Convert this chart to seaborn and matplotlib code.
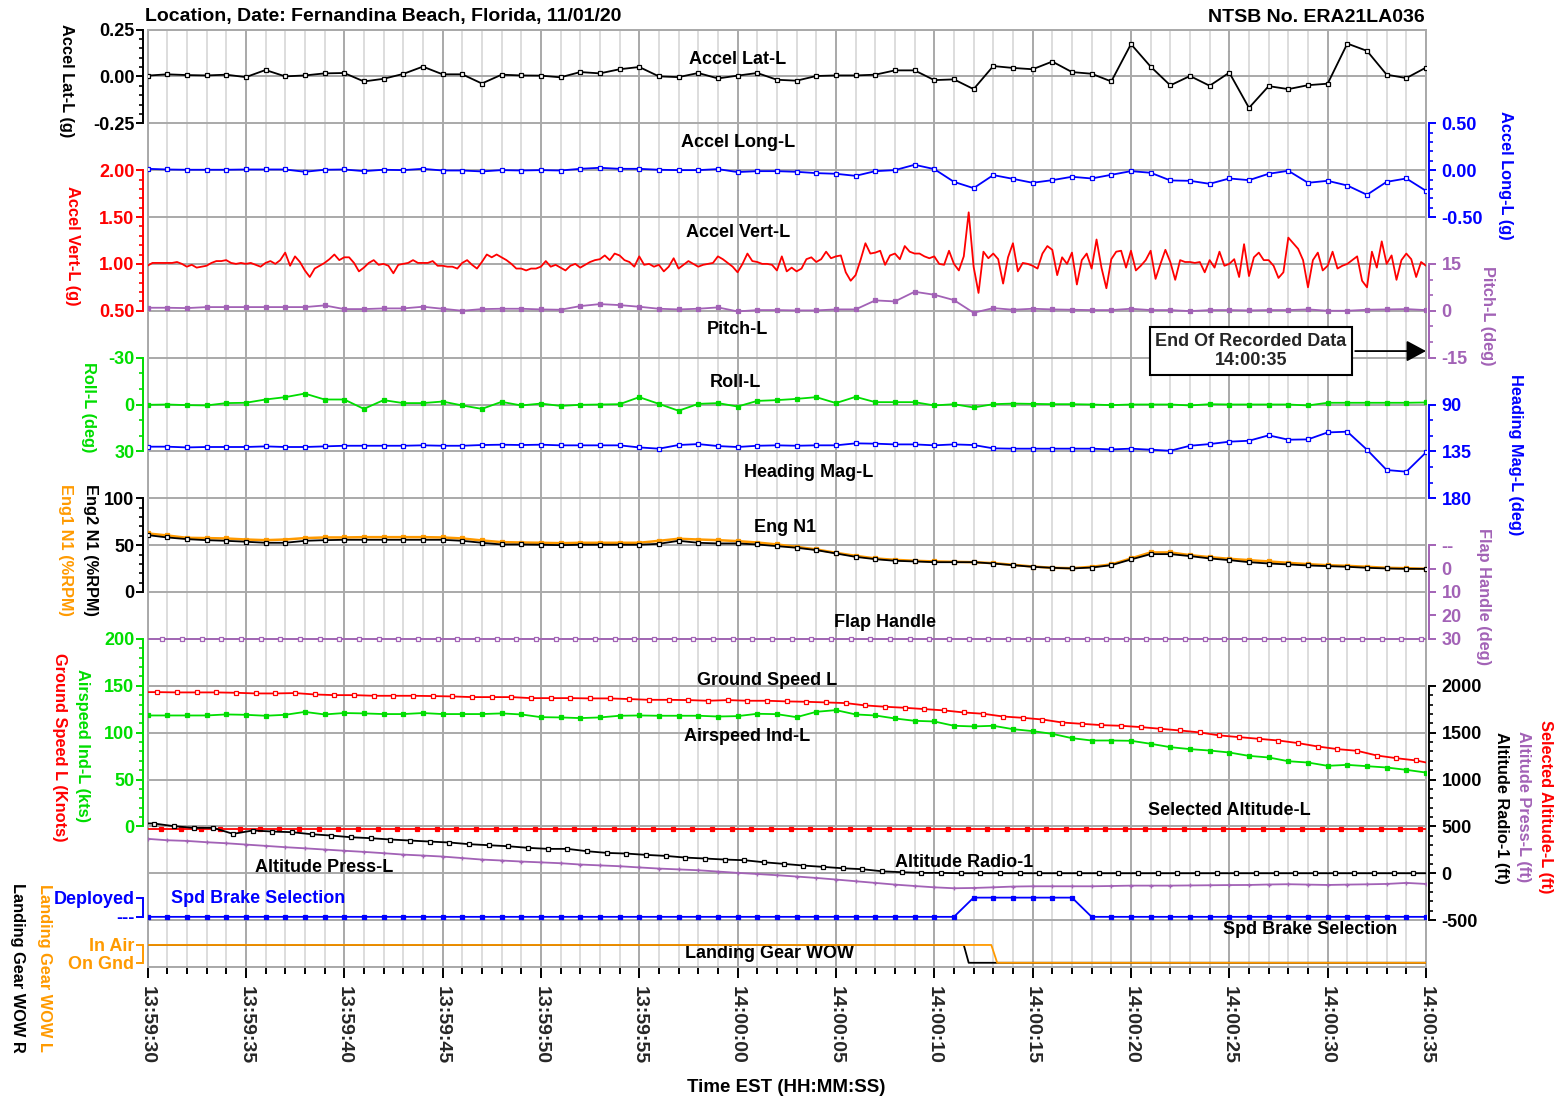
import numpy as np
import matplotlib
matplotlib.use("Agg")
import matplotlib.pyplot as plt
from matplotlib.ticker import MultipleLocator, FixedLocator, FuncFormatter
import seaborn as sns

sns.set_style("white")
plt.rcParams["font.family"] = ["Liberation Sans", "DejaVu Sans"]
plt.rcParams["font.weight"] = "bold"

RED, BLUE, GREEN = "#FF0000", "#0000FF", "#00DD00"
PURPLE, ORANGE, BLACK = "#A262B6", "#FF9A00", "#000000"
GRID_MAJ, GRID_MIN = "#A9A9A9", "#DDDDDD"

# ---- data (time = seconds after 13:59:30) ----
sec = np.arange(0, 66)

accel_lat = [0.004, 0.011, 0.007, 0.005, 0.009, -0.004, 0.034, 0.000, 0.005, 0.016,
             0.018, -0.027, -0.013, 0.013, 0.052, 0.011, 0.011, -0.038, 0.009, 0.005,
             0.004, -0.005, 0.023, 0.016, 0.038, 0.050, 0.000, -0.004, 0.018, -0.011,
             0.004, 0.018, -0.018, -0.023, 0.002, 0.005, 0.005, 0.009, 0.032, 0.032,
             -0.020, -0.016, -0.068, 0.055, 0.045, 0.038, 0.079, 0.023, 0.014, -0.027,
             0.172, 0.052, -0.048, 0.002, -0.050, 0.020, -0.168, -0.052, -0.068, -0.047,
             -0.039, 0.175, 0.136, 0.009, -0.009, 0.047]

accel_long = [0.014, 0.007, 0.004, 0.004, 0.004, 0.007, 0.007, 0.007, -0.018, 0.004,
              0.007, -0.011, 0.004, 0.000, 0.014, -0.004, -0.004, -0.014, 0.000, -0.004,
              0.000, -0.004, 0.014, 0.025, 0.014, 0.014, 0.004, 0.000, 0.000, 0.011,
              -0.021, -0.011, -0.011, -0.018, -0.032, -0.039, -0.061, -0.011, 0.000, 0.057,
              0.011, -0.125, -0.192, -0.053, -0.093, -0.135, -0.107, -0.071, -0.089, -0.050,
              -0.011, -0.028, -0.110, -0.114, -0.146, -0.089, -0.107, -0.039, -0.007, -0.135,
              -0.114, -0.164, -0.263, -0.125, -0.089, -0.221]

# accel vert sampled at 4 Hz
vert_t = np.arange(0, 65.01, 0.25)
accel_vert = [0.98, 1.01, 1.01, 1.01, 1.01, 1.01, 1.02, 1.00, 0.97, 0.99, 0.96, 0.97,
              0.98, 1.01, 1.03, 1.03, 1.04, 1.01, 1.00, 1.01, 1.00, 1.01, 0.99, 0.97,
              1.01, 1.03, 1.00, 1.04, 1.12, 0.98, 1.08, 1.02, 0.93, 0.86, 0.95, 0.98,
              1.01, 1.05, 1.10, 1.04, 1.07, 1.07, 1.01, 0.92, 0.96, 1.01, 1.04, 0.99,
              1.00, 0.98, 0.90, 0.99, 1.00, 1.01, 1.04, 1.01, 1.01, 1.01, 1.03, 0.98,
              0.98, 0.97, 0.97, 0.95, 1.01, 1.04, 0.99, 0.95, 1.02, 1.10, 1.07, 1.10,
              1.07, 1.04, 1.00, 0.95, 0.95, 0.93, 0.95, 0.95, 0.97, 1.03, 0.97, 0.99,
              0.96, 0.93, 0.98, 1.00, 0.96, 0.99, 1.02, 1.04, 1.05, 1.09, 1.04, 1.11,
              1.09, 1.04, 1.02, 0.97, 1.08, 0.99, 1.00, 0.97, 0.99, 0.92, 0.97, 1.06,
              0.95, 0.99, 1.03, 1.00, 0.97, 0.99, 1.00, 1.01, 1.08, 1.05, 1.01, 0.97,
              0.91, 1.00, 1.11, 1.03, 1.02, 1.00, 1.00, 0.99, 0.93, 1.08, 0.92, 0.96,
              0.92, 0.95, 1.05, 1.07, 1.02, 1.05, 1.13, 1.06, 1.08, 1.09, 0.91, 0.82,
              0.88, 1.04, 1.22, 1.11, 1.12, 1.14, 0.99, 1.09, 1.11, 1.05, 1.19, 1.13,
              1.11, 1.11, 1.08, 1.06, 1.08, 1.00, 0.99, 1.14, 1.00, 0.93, 1.08, 1.55,
              0.97, 0.69, 1.13, 1.06, 1.11, 1.05, 0.79, 1.07, 1.22, 0.92, 1.01, 1.00,
              0.98, 0.95, 1.11, 1.19, 1.15, 0.88, 1.07, 1.00, 1.12, 0.78, 1.04, 1.11,
              0.95, 1.26, 0.96, 0.74, 1.05, 1.13, 1.14, 0.96, 1.14, 0.93, 0.98, 1.04,
              1.14, 0.84, 1.00, 1.15, 1.02, 0.83, 1.04, 1.02, 1.02, 1.01, 1.02, 0.91,
              1.04, 0.96, 1.13, 0.98, 1.00, 1.05, 0.86, 1.21, 0.87, 1.07, 1.12, 1.04,
              1.04, 0.98, 0.85, 0.91, 1.28, 1.22, 1.16, 1.04, 0.75, 1.04, 1.12, 0.93,
              0.98, 1.13, 0.95, 0.98, 1.00, 1.04, 1.08, 0.82, 0.75, 1.13, 0.96, 1.24,
              1.00, 1.09, 0.83, 1.04, 1.11, 1.05, 0.86, 1.02, 0.98]

pitch = [0.96, 0.96, 0.85, 1.17, 1.17, 1.17, 1.17, 1.17, 1.17, 1.71,
         0.53, 0.53, 0.75, 0.75, 1.28, 0.64, 0.00, 0.53, 0.64, 0.64,
         0.43, 0.32, 1.49, 2.13, 1.81, 1.28, 0.64, 0.43, 0.64, 1.07,
         -0.21, 0.21, 0.21, 0.11, 0.11, 0.43, 0.43, 3.31, 2.99, 6.08,
         5.12, 3.41, -0.64, 0.85, 0.32, 0.64, 0.43, 0.32, 0.21, 0.21,
         0.64, 0.21, 0.21, -0.11, 0.21, 0.21, 0.11, 0.21, 0.21, 0.43,
         0.00, 0.00, 0.32, 0.43, 0.53, 0.21]

roll = [0.2, 0.0, 0.4, 0.6, -0.9, -1.1, -3.2, -4.7, -7.0, -3.2,
        -3.2, 2.8, -2.8, -0.9, -0.9, -1.9, 0.6, 2.8, -1.7, 0.6,
        -0.6, 0.9, 0.2, 0.0, -0.2, -4.7, -0.4, 4.0, -0.4, -0.9,
        1.3, -2.3, -2.8, -3.6, -4.7, -0.9, -4.9, -1.5, -1.5, -1.5,
        0.6, -0.2, 1.9, -0.2, -0.6, -0.4, -0.2, -0.2, 0.0, 0.4,
        0.0, 0.0, 0.0, 0.6, -0.2, 0.0, 0.0, 0.0, 0.0, 0.6,
        -1.1, -1.1, -1.1, -1.1, -1.1, -1.3]

heading = [130.5, 130.5, 131.2, 130.8, 130.8, 130.8, 130.2, 130.8, 130.8, 130.2,
           129.6, 129.6, 129.6, 129.6, 129.2, 129.6, 129.6, 128.9, 128.6, 128.9,
           128.6, 129.2, 129.2, 129.2, 129.2, 131.2, 132.4, 128.9, 128.0, 129.9,
           130.8, 129.6, 129.2, 129.6, 129.2, 129.2, 127.3, 127.6, 128.3, 128.3,
           129.2, 128.3, 128.9, 132.1, 132.4, 132.4, 132.4, 132.4, 132.4, 133.1,
           132.4, 133.4, 134.4, 129.6, 128.0, 125.7, 124.8, 119.6, 123.8, 123.5,
           116.8, 116.1, 133.4, 152.9, 154.5, 136.0]

eng1_n1 = [62.5, 60.3, 57.8, 57.5, 57.1, 56.0, 55.3, 56.0, 57.5, 58.2,
           58.2, 58.5, 58.5, 58.5, 58.5, 58.2, 57.1, 55.0, 53.2, 52.8,
           52.5, 52.1, 52.5, 52.5, 52.5, 52.5, 54.6, 56.8, 56.0, 55.3,
           54.3, 52.8, 50.7, 48.2, 45.4, 41.8, 38.6, 35.8, 34.3, 33.3,
           32.6, 32.2, 31.8, 30.8, 29.0, 27.2, 25.8, 25.4, 26.9, 29.4,
           35.8, 42.2, 42.2, 39.3, 37.2, 35.4, 34.0, 32.6, 31.1, 29.7,
           28.6, 27.9, 26.9, 25.8, 25.4, 24.7]

eng2_n1 = [60.7, 58.2, 56.4, 55.3, 54.6, 53.6, 52.5, 52.5, 54.6, 55.3,
           55.7, 55.7, 55.7, 55.7, 55.7, 55.7, 54.6, 52.5, 50.7, 50.7,
           50.4, 50.0, 50.4, 50.4, 50.4, 50.4, 51.4, 54.6, 52.5, 51.8,
           51.8, 50.7, 48.9, 47.2, 44.7, 41.1, 37.5, 35.0, 33.3, 32.6,
           31.8, 31.8, 31.8, 30.4, 28.6, 26.9, 25.8, 25.1, 26.1, 28.6,
           34.7, 40.4, 40.4, 38.3, 35.8, 34.0, 31.8, 30.4, 29.4, 28.3,
           27.6, 26.9, 25.8, 25.1, 24.7, 24.7]

flap_t = np.arange(-0.25, 66, 1.0)
flap = [30] * len(flap_t)

gs_t = np.arange(-0.5, 66, 1.0)
ground_speed = [143.2, 143.2, 142.9, 142.9, 142.9, 142.5, 141.8, 141.8, 142.2, 140.7,
                140.0, 140.0, 139.3, 139.3, 139.3, 139.0, 138.6, 137.9, 137.9, 137.9,
                136.8, 136.8, 136.8, 136.5, 136.5, 135.8, 135.0, 135.0, 134.7, 134.0,
                134.7, 134.0, 134.0, 133.3, 132.9, 132.2, 131.5, 129.0, 127.6, 126.5,
                125.1, 123.7, 121.5, 120.1, 117.2, 115.8, 114.0, 110.8, 109.4, 108.0,
                107.3, 105.9, 104.1, 102.3, 100.2, 97.0, 95.2, 93.4, 91.6, 88.8,
                85.2, 82.4, 80.6, 75.6, 72.7, 70.3, 66.0]

airspeed = [118.3, 118.3, 118.3, 118.3, 119.4, 119.0, 118.0, 119.0, 122.1, 119.4,
            120.9, 120.5, 119.8, 119.8, 120.9, 119.8, 119.8, 119.8, 120.5, 119.4,
            116.5, 116.2, 115.5, 116.2, 118.0, 118.3, 118.0, 118.0, 118.0, 117.2,
            117.6, 120.1, 119.7, 116.5, 122.2, 124.0, 119.4, 118.3, 115.1, 112.6,
            111.9, 107.3, 106.6, 107.3, 103.7, 101.6, 98.7, 94.1, 91.6, 91.6,
            91.3, 88.1, 84.5, 82.4, 80.9, 78.8, 75.2, 73.5, 69.5, 68.1,
            64.6, 65.6, 64.2, 62.8, 60.3, 57.4]

sel_t = np.arange(-0.3, 66, 1.0)
selected_alt = [470] * len(sel_t)

radio_t = np.arange(-0.65, 66, 1.0)
radio_alt = [535, 530, 502, 484, 484, 420, 456, 445, 438, 416, 402, 384, 374, 360,
             349, 338, 328, 310, 299, 288, 271, 260, 260, 235, 217, 210, 196, 185,
             167, 157, 146, 139, 117, 100, 82, 68, 53, 43, 21, 11, 4, 4] + [0] * 25

press_alt = [367, 352, 345, 331, 320, 306, 292, 278, 266, 253,
             240, 228, 214, 199, 189, 178, 162, 146, 136, 125,
             116, 107, 93, 84, 75, 62, 50, 41, 32, 18,
             4, -8, -21, -35, -50, -67, -85, -103, -121, -136,
             -150, -160, -157, -150, -142, -139, -139, -139, -139, -136,
             -132, -132, -132, -130, -128, -126, -125, -120, -117, -121,
             -125, -121, -118, -114, -103, -114]

spd_brake = [0] * 42 + [1] * 6 + [0] * 18

wow_l_t = [0, 42.9, 43.2, 65]
wow_l = [1, 1, 0, 0]
wow_r_t = [0, 41.5, 41.75, 65]
wow_r = [1, 1, 0, 0]

# ---- figure / main frame ----
W, H = 1557, 1100
fig = plt.figure(figsize=(W / 100, H / 100), dpi=100)
L, R, T, B = 147.5, 1426, 29.5, 967
ax = fig.add_axes([L / W, 1 - B / H, (R - L) / W, (B - T) / H])
ROWS = 20


def lane(side, v_top, r_top, v_bot, r_bot, color, major, labels, minor=None):
    a = ax.twinx()
    k = (v_bot - v_top) / (r_bot - r_top)
    a.set_ylim(v_top + (ROWS - r_top) * k, v_top - r_top * k)
    for s in a.spines.values():
        s.set_visible(False)
    sp = a.spines[side]
    sp.set_visible(True)
    sp.set_color(color)
    sp.set_linewidth(1.4)
    sp.set_position(("outward", 3.2 if side == "left" else 2))
    sp.set_bounds(min(v_top, v_bot), max(v_top, v_bot))
    if side == "left":
        a.yaxis.tick_left()
    else:
        a.yaxis.tick_right()
    a.set_yticks(major, labels=labels)
    if minor is not None:
        a.yaxis.set_minor_locator(FixedLocator(minor))
    pad = 1.5 if side == "left" else 4.5
    a.tick_params(axis="y", which="major", colors=color, length=4.8, width=1.4,
                  labelsize=13, pad=pad)
    a.tick_params(axis="y", which="minor", colors=color, length=2.6, width=1.2)
    for lab in a.get_yticklabels():
        lab.set_fontweight("bold")
    return a


def trace(a, x, y, color, marker=None, face=None, ms=3.2, lw=1.3):
    kw = dict(color=color, linewidth=lw, estimator=None, sort=False, legend=False)
    if marker:
        kw.update(marker=marker, markersize=ms, markerfacecolor=face or color,
                  markeredgecolor=color, markeredgewidth=0.9)
    sns.lineplot(x=x, y=y, ax=a, **kw)


def f2(vals):
    return [f"{v:.2f}" for v in vals]


# Accel Lat
a = lane("left", 0.25, 0, -0.25, 2, BLACK, [0.25, 0, -0.25], f2([0.25, 0, -0.25]),
         np.arange(-0.25, 0.26, 0.05))
trace(a, sec, accel_lat, BLACK, "s", "white")

# Accel Long
a = lane("right", 0.5, 2, -0.5, 4, BLUE, [0.5, 0, -0.5], f2([0.5, 0, -0.5]),
         np.arange(-0.5, 0.51, 0.1))
trace(a, sec, accel_long, BLUE, "s", "white")

# Accel Vert
a = lane("left", 2.0, 3, 0.5, 6, RED, [2.0, 1.5, 1.0, 0.5], f2([2.0, 1.5, 1.0, 0.5]),
         np.arange(0.5, 2.01, 0.1))
trace(a, vert_t, accel_vert, RED)

# Pitch
a = lane("right", 15, 5, -15, 7, PURPLE, [15, 0, -15], ["15", "0", "-15"],
         np.arange(-15, 16, 5))
trace(a, sec, pitch, PURPLE, "s", None, ms=2.6)

# Roll
a = lane("left", -30, 7, 30, 9, GREEN, [-30, 0, 30], ["-30", "0", "30"],
         np.arange(-30, 31, 10))
trace(a, sec, roll, GREEN, "s", None, ms=2.6)

# Heading
a = lane("right", 90, 8, 180, 10, BLUE, [90, 135, 180], ["90", "135", "180"],
         np.arange(90, 181, 15))
trace(a, sec, heading, BLUE, "s", "white")

# Engine N1
a = lane("left", 100, 10, 0, 12, BLACK, [100, 50, 0], ["100", "50", "0"],
         np.arange(0, 101, 10))
trace(a, sec, eng1_n1, ORANGE, "s", None, ms=2.4, lw=1.8)
trace(a, sec, eng2_n1, BLACK, "s", "white")

# Flap handle
a = lane("right", -10, 11, 30, 13, PURPLE, [-10, 0, 10, 20, 30],
         ["--", "0", "10", "20", "30"])
trace(a, flap_t, flap, PURPLE, "s", "white")

# Speeds
a = lane("left", 200, 13, 0, 17, GREEN, [200, 150, 100, 50, 0],
         ["200", "150", "100", "50", "0"], np.arange(0, 201, 10))
trace(a, gs_t, ground_speed, RED, "s", "white")
trace(a, sec, airspeed, GREEN, "s", None, ms=2.6)

# Altitudes
a = lane("right", 2000, 14, -500, 19, BLACK, [2000, 1500, 1000, 500, 0, -500],
         ["2000", "1500", "1000", "500", "0", "-500"], np.arange(-500, 2001, 100))
trace(a, sel_t, selected_alt, RED, "s", None, ms=2.6)
trace(a, sec, press_alt, PURPLE, "+", None, ms=3)
trace(a, radio_t, radio_alt, BLACK, "s", "white")

# Speed brake
a = lane("left", 1, 18.52, 0, 18.93, BLUE, [1, 0], ["Deployed", "---"])
trace(a, sec, spd_brake, BLUE, "s", None, ms=2.6)

# Landing gear WOW
a = lane("left", 1, 19.53, 0, 19.91, ORANGE, [1, 0], ["In Air", "On Gnd"])
trace(a, wow_r_t, wow_r, BLACK)
trace(a, wow_l_t, wow_l, ORANGE)

# ---- main frame: grid and time axis ----
ax.set_xlim(0, 65)
ax.set_ylim(ROWS, 0)
ax.xaxis.set_major_locator(MultipleLocator(5))
ax.xaxis.set_minor_locator(MultipleLocator(1))
ax.yaxis.set_major_locator(MultipleLocator(1))
ax.grid(which="minor", axis="x", color=GRID_MIN, lw=1.4)
ax.grid(which="major", axis="x", color=GRID_MAJ, lw=1.4)
ax.grid(which="major", axis="y", color=GRID_MAJ, lw=1.4)
ax.set_axisbelow(True)
for s in ax.spines.values():
    s.set_color(GRID_MAJ)
    s.set_linewidth(1.4)
ax.tick_params(axis="y", left=False, right=False, labelleft=False, labelright=False)


def hms(s, _):
    s = int(round(s)) + 13 * 3600 + 59 * 60 + 30
    return f"{s // 3600:02d}:{s % 3600 // 60:02d}:{s % 60:02d}"


ax.xaxis.set_major_formatter(FuncFormatter(hms))
ax.tick_params(axis="x", which="major", length=8, width=1.4, color=BLACK,
               labelsize=14, labelrotation=270, pad=6, bottom=True)
ax.tick_params(axis="x", which="minor", length=5, width=1.4, color=BLACK, bottom=True)
for lab in ax.get_xticklabels():
    lab.set_fontweight("bold")

# ---- in-plot trace names ----
names = [("Accel Lat-L", 30.0, 0.65, BLACK), ("Accel Long-L", 30.0, 2.42, BLACK),
         ("Accel Vert-L", 30.0, 4.34, BLACK), ("Pitch-L", 30.0, 6.39, BLACK),
         ("Roll-L", 29.9, 7.54, BLACK), ("Heading Mag-L", 33.6, 9.46, BLACK),
         ("Eng N1", 32.4, 10.63, BLACK), ("Flap Handle", 37.5, 12.66, BLACK),
         ("Ground Speed L", 31.5, 13.88, BLACK), ("Airspeed Ind-L", 30.5, 15.09, BLACK),
         ("Selected Altitude-L", 55.0, 16.67, BLACK), ("Altitude Radio-1", 41.5, 17.76, BLACK),
         ("Altitude Press-L", 9.0, 17.87, BLACK), ("Spd Brake Selection", 5.6, 18.53, BLUE),
         ("Spd Brake Selection", 59.1, 19.21, BLACK), ("Landing Gear WOW", 31.6, 19.72, BLACK)]
for txt, tx, ty, c in names:
    ax.text(tx, ty, txt, ha="center", va="center", fontsize=13, color=c,
            fontweight="bold", zorder=10)

# end-of-data callout: box text plus arrow to the right edge
ax.annotate("", xy=(65, 6.86), xytext=(61.4, 6.86),
            arrowprops=dict(arrowstyle="-|>,head_length=0.8,head_width=0.43",
                            mutation_scale=15, color="black", lw=1.3,
                            shrinkA=0, shrinkB=0),
            zorder=11)
ax.text(56.1, 6.86, "End Of Recorded Data\n14:00:35", ha="center", va="center",
        fontsize=13, weight="bold", linespacing=1.2, zorder=12,
        bbox=dict(boxstyle="square,pad=0.3", fc="white", ec="black", lw=1.5))


# ---- axis titles (pixel positions) ----
def ftext(x, y, s, color=BLACK, size=11.8, rot=270, ha="center"):
    fig.text(x / W, 1 - y / H, s, ha=ha, va="center", rotation=rot, color=color,
             fontsize=size, fontweight="bold")


ftext(66, 81, "Accel Lat-L (g)")
ftext(72, 246, "Accel Vert-L (g)", RED)
ftext(88, 407, "Roll-L (deg)", GREEN)
ftext(90, 550, "Eng2 N1 (%RPM)")
ftext(65, 550, "Eng1 N1 (%RPM)", ORANGE)
ftext(82, 746, "Airspeed Ind-L (kts)", GREEN)
ftext(59, 747, "Ground Speed L (Knots)", RED)
ftext(44, 968, "Landing Gear WOW L", ORANGE)
ftext(17, 968, "Landing Gear WOW R")
ftext(1506, 175, "Accel Long-L (g)", BLUE)
ftext(1488, 316, "Pitch-L (deg)", PURPLE)
ftext(1515, 455, "Heading Mag-L (deg)", BLUE)
ftext(1484, 597, "Flap Handle (deg)", PURPLE)
ftext(1502, 808, "Altitude Radio-1 (ft)")
ftext(1524, 807, "Altitude Press-L (ft)", PURPLE)
ftext(1546, 807, "Selected Altitude-L (ft)", RED)

ftext(145, 17, "Location, Date: Fernandina Beach, Florida, 11/01/20", size=14, rot=0, ha="left")
ftext(1425, 17, "NTSB No. ERA21LA036", size=14, rot=0, ha="right")
ftext(786, 1088, "Time EST (HH:MM:SS)", size=13.5, rot=0)

fig.savefig("out.png", dpi=100)
